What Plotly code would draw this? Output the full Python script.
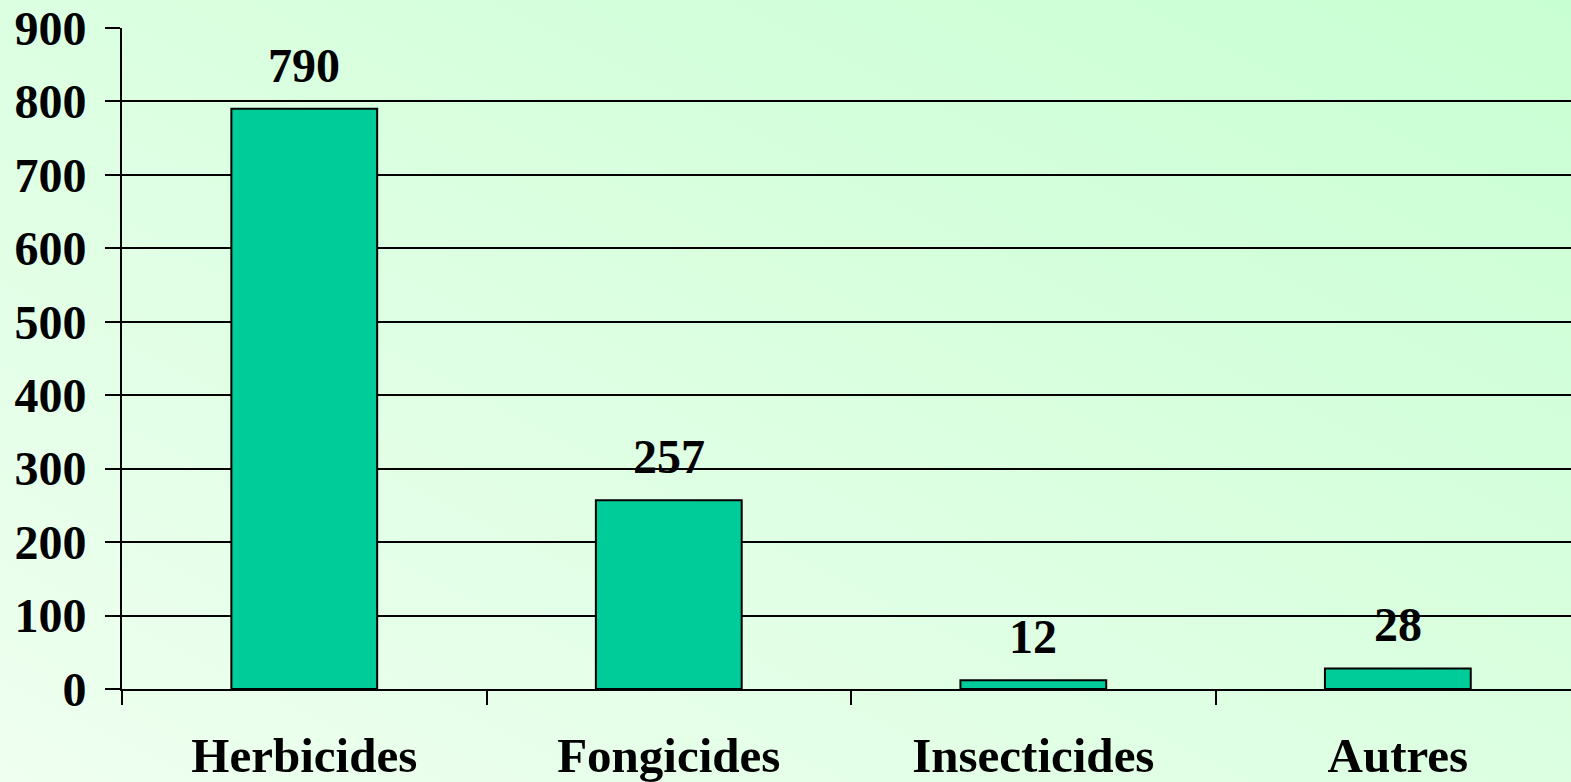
import base64
import plotly.graph_objects as go

categories = ["Herbicides", "Fongicides", "Insecticides", "Autres"]
values = [790, 257, 12, 28]
y_ticks = [0, 100, 200, 300, 400, 500, 600, 700, 800, 900]

W, H = 1571, 782
ML, MR, MT, MB = 122, 0, 28, 93
PW, PH = W - ML - MR, H - MT - MB

FONT = "Liberation Serif, Times New Roman, serif"

svg = (
    f'<svg xmlns="http://www.w3.org/2000/svg" width="{W}" height="{H}">'
    '<defs><linearGradient id="g" x1="0" y1="1" x2="1" y2="0">'
    '<stop offset="0" stop-color="#EFFFF0"/>'
    '<stop offset="1" stop-color="#C8FFD2"/>'
    '</linearGradient></defs>'
    f'<rect width="{W}" height="{H}" fill="url(#g)"/></svg>'
)
bg_src = "data:image/svg+xml;base64," + base64.b64encode(svg.encode()).decode()

fig = go.Figure()
fig.add_trace(go.Bar(
    x=categories, y=values,
    marker=dict(color="#00CC99", line=dict(color="black", width=2)),
))

for c, v in zip(categories, values):
    fig.add_annotation(
        x=c, y=v, xref="x", yref="y", text=str(v), showarrow=False,
        yanchor="bottom", yshift=15,
        font=dict(family=FONT, size=48, color="black", weight="bold"),
    )

fig.update_layout(
    width=W, height=H,
    margin=dict(l=ML, r=MR, t=MT, b=MB, autoexpand=False),
    paper_bgcolor="#DDFFE0",
    plot_bgcolor="rgba(0,0,0,0)",
    showlegend=False,
    bargap=0.6,
    images=[dict(
        source=bg_src, xref="paper", yref="paper",
        x=-ML / PW, y=1 + MT / PH, sizex=W / PW, sizey=H / PH,
        xanchor="left", yanchor="top", sizing="stretch", layer="below",
    )],
)
fig.update_xaxes(
    range=[-0.5, 3.475], automargin=False,
    tickson="boundaries", ticks="outside", ticklen=14, tickwidth=2, tickcolor="black",
    showgrid=False, showline=True, linecolor="black", linewidth=2,
    tickfont=dict(family=FONT, size=49, color="black", weight="bold"),
    ticklabelstandoff=22,
)
fig.update_yaxes(
    range=[0, 900], tickvals=y_ticks, automargin=False,
    ticks="outside", ticklen=15, tickwidth=2, tickcolor="black",
    showgrid=True, gridcolor="black", gridwidth=2,
    showline=True, linecolor="black", linewidth=2,
    zeroline=False,
    tickfont=dict(family=FONT, size=48, color="black", weight="bold"),
    ticklabelstandoff=9,
)

fig.write_html(
    "out.html",
    config={"displayModeBar": False},
    post_script="document.body.style.margin='0';document.body.style.overflow='hidden';",
)
